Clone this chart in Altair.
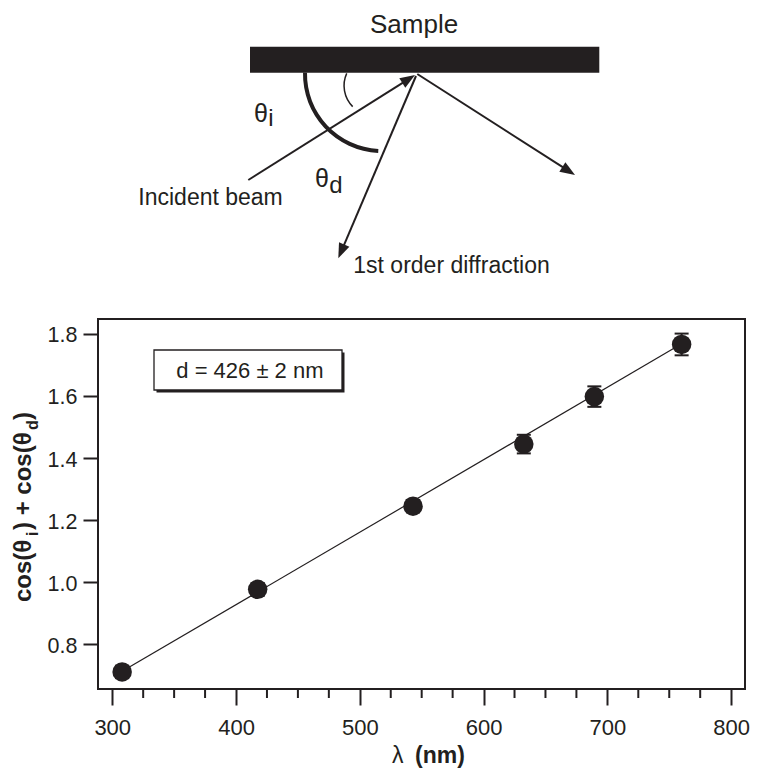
import math
import altair as alt
import pandas as pd

# ------------------------------------------------------------------ data
wavelength_nm = [308.0, 417.5, 543.0, 632.5, 689.5, 760.0]
cos_sum = [0.711, 0.977, 1.245, 1.445, 1.598, 1.766]
cos_sum_err = [0.02, 0.02, 0.02, 0.030, 0.033, 0.035]

fit_wavelength_nm = [308.0, 760.0]
fit_cos_sum = [0.713, 1.768]

x_major_ticks = [300, 400, 500, 600, 700, 800]
x_minor_ticks = [325, 350, 375, 425, 450, 475, 525, 550, 575,
                 625, 650, 675, 725, 750, 775]
y_ticks = [0.8, 1.0, 1.2, 1.4, 1.6, 1.8]
annotation_text = "d = 426 ± 2 nm"

# schematic of the geometry (units ~ px, origin at the reflection point, v upward)
sample_bar_u = [-166.5, 182.8]
sample_bar_v = [0.3, 26.3]

beam_name = ["incident", "diffraction", "reflected"]
beam_from_u = [-168.2, -0.5, 0.8]
beam_from_v = [-107.0, -3.0, -1.0]
beam_tip_u = [-1.5, -78.2, 158.5]
beam_tip_v = [-2.0, -185.3, -102.0]

arc_theta_d_center = [-34.5, -1.0]
arc_theta_i_center = [-42.8, -12.7]

label_text = ["Sample", "θ", "i", "θ", "d", "Incident beam", "1st order diffraction"]
label_u = [-46.5, -162.5, -148.2, -101.5, -87.2, -278.2, -63.2]
label_v = [39.7, -48.7, -53.0, -114.3, -119.7, -132.0, -200.3]
label_role = ["title", "symbol", "sub", "symbol", "sub", "caption", "caption"]

# ------------------------------------------------------------------ style / layout
INK = "#231f20"
FONT = "Liberation Sans"
PAD_L, PAD_T = 90, 311          # plot area origin (page 98, 319)
W, H = 647, 370
PAD_R, PAD_B = 742 - PAD_L - W, 80
ORIGIN_X = 8 + PAD_L             # page x of plot left edge
O_X, O_Y = 416.5, 73.0           # page position of the reflection point
one = pd.DataFrame({"k": [0]})

XS = alt.Scale(domain=[288.5, 811.2], nice=False, zero=False)
YS = alt.Scale(domain=[0.656, 1.848], nice=False, zero=False)
DU = alt.Scale(domain=[ORIGIN_X - O_X, ORIGIN_X + W - O_X], nice=False, zero=False)
DV = alt.Scale(domain=[O_Y - (8 + PAD_T) - H, O_Y - (8 + PAD_T)], nice=False, zero=False)

x_axis = alt.Axis(values=x_major_ticks, title=None, format="d", grid=False, domain=False,
                  tickSize=16, tickWidth=2, tickColor=INK, labelFont=FONT, labelFontSize=22,
                  labelColor=INK, labelPadding=12, labelFlush=False, labelOverlap=False)
y_axis = alt.Axis(values=y_ticks, title=None, format=".1f", grid=False, domain=False,
                  tickSize=15, tickWidth=2, tickColor=INK, labelFont=FONT, labelFontSize=21.5,
                  labelColor=INK, labelPadding=6, labelOffset=2, labelOverlap=False)


def X(f):
    return alt.X(f, scale=XS, axis=x_axis)


def Y(f):
    return alt.Y(f, scale=YS, axis=y_axis)


def U(f):
    return alt.X(f, scale=DU, axis=None)


def V(f):
    return alt.Y(f, scale=DV, axis=None)


def text_at(txt, x, y, size, weight="normal", angle=0, align="left"):
    return alt.Chart(one).mark_text(
        text=txt, font=FONT, fontSize=size, fontWeight=weight, angle=angle,
        align=align, baseline="alphabetic", color=INK
    ).encode(x=alt.value(x), y=alt.value(y))


# ------------------------------------------------------------------ data panel
pts = pd.DataFrame({"wl": wavelength_nm, "cs": cos_sum, "err": cos_sum_err})
pts["lo"] = pts["cs"] - pts["err"]
pts["hi"] = pts["cs"] + pts["err"]
fit = pd.DataFrame({"wl": fit_wavelength_nm, "cs": fit_cos_sum})
minor = pd.DataFrame({"wl": x_minor_ticks})

fit_line = alt.Chart(fit).mark_line(color=INK, strokeWidth=1.2).encode(x=X("wl:Q"), y=Y("cs:Q"))
err_bars = alt.Chart(pts).mark_rule(color=INK, strokeWidth=2).encode(
    x=X("wl:Q"), y=Y("lo:Q"), y2="hi:Q")
cap_lo = alt.Chart(pts).mark_tick(orient="horizontal", size=14, thickness=2, color=INK, opacity=1).encode(
    x=X("wl:Q"), y=Y("lo:Q"))
cap_hi = alt.Chart(pts).mark_tick(orient="horizontal", size=14, thickness=2, color=INK, opacity=1).encode(
    x=X("wl:Q"), y=Y("hi:Q"))
dots = alt.Chart(pts).mark_circle(size=380, color=INK, opacity=1).encode(x=X("wl:Q"), y=Y("cs:Q"))
minor_ticks = alt.Chart(minor).mark_rule(color=INK, strokeWidth=2).encode(
    x=X("wl:Q"), y=alt.value(H), y2=alt.value(H + 9))

box_shadow = alt.Chart(one).mark_rect(color=INK).encode(
    x=alt.value(58.5), x2=alt.value(246.5), y=alt.value(33.5), y2=alt.value(73.5))
box = alt.Chart(one).mark_rect(fill="white", stroke=INK, strokeWidth=1.3).encode(
    x=alt.value(56), x2=alt.value(244), y=alt.value(31), y2=alt.value(71))
box_text = text_at(annotation_text, 151.9, 59.3, 22, align="center")

# y title  cos(θi) + cos(θd)  (rotated, with subscripts)
TX, SX = -67.5, -60.5
yt = [
    text_at("cos(θ", TX, 283, 24, "bold", 270),
    text_at("i", SX, 217, 16, "bold", 270),
    text_at(") + cos(θ", TX, 211, 24, "bold", 270),
    text_at("d", SX, 111, 16, "bold", 270),
    text_at(")", TX, 101, 24, "bold", 270),
]
# x title  λ (nm)
xt = [
    text_at("λ", 294, 444, 23, "normal"),
    text_at("(nm)", 317, 444, 23, "bold"),
]

data_panel = alt.layer(fit_line, err_bars, cap_lo, cap_hi, dots, minor_ticks,
                       box_shadow, box, box_text, *yt, *xt)

# ------------------------------------------------------------------ schematic
bar_df = pd.DataFrame({"u0": [sample_bar_u[0]], "u1": [sample_bar_u[1]],
                       "v0": [sample_bar_v[0]], "v1": [sample_bar_v[1]]})
sample_bar = alt.Chart(bar_df).mark_rect(color=INK).encode(
    x=U("u0:Q"), x2="u1:Q", y=V("v0:Q"), y2="v1:Q")

rows = []
for n, fu, fv, tu, tv in zip(beam_name, beam_from_u, beam_from_v, beam_tip_u, beam_tip_v):
    du, dv = tu - fu, tv - fv
    L = math.hypot(du, dv)
    ang = math.degrees(math.atan2(du, dv)) % 360
    rows.append({"beam": n, "fu": fu, "fv": fv, "eu": tu - 9 * du / L, "ev": tv - 9 * dv / L,
                 "tu": tu, "tv": tv, "ang": ang})
beams = pd.DataFrame(rows)

beam_lines = alt.Chart(beams).mark_rule(color=INK, strokeWidth=2).encode(
    x=U("fu:Q"), y=V("fv:Q"), x2="eu:Q", y2="ev:Q")
ARROW = "M0,0L0.75,2L-0.75,2Z"
arrowheads = alt.Chart(beams).mark_point(shape=ARROW, filled=True, size=225, opacity=1,
                                         color=INK, strokeWidth=0).encode(
    x=U("tu:Q"), y=V("tv:Q"), angle=alt.Angle("ang:Q", scale=None))

arc_d = alt.Chart(pd.DataFrame({"cu": [arc_theta_d_center[0]], "cv": [arc_theta_d_center[1]]})).mark_arc(
    color=INK, radius=79, radius2=75, theta=3.19, theta2=4.73).encode(x=U("cu:Q"), y=V("cv:Q"))
arc_i = alt.Chart(pd.DataFrame({"cu": [arc_theta_i_center[0]], "cv": [arc_theta_i_center[1]]})).mark_arc(
    color=INK, radius=30.4, radius2=28.9, theta=3.93, theta2=5.14).encode(x=U("cu:Q"), y=V("cv:Q"))

labels = pd.DataFrame({"txt": label_text, "u": label_u, "v": label_v, "role": label_role})
diagram_text = alt.Chart(labels).mark_text(align="left", baseline="alphabetic", font=FONT, color=INK).encode(
    x=U("u:Q"), y=V("v:Q"), text="txt:N",
    size=alt.Size("role:N", scale=alt.Scale(domain=["title", "symbol", "sub", "caption"],
                                            range=[26, 23, 15, 22]), legend=None))

diagram = alt.layer(sample_bar, beam_lines, arrowheads, arc_d, arc_i, diagram_text)

chart = alt.layer(data_panel, diagram).resolve_scale(
    x="independent", y="independent"
).properties(
    width=W, height=H,
    autosize=alt.AutoSizeParams(type="none"),
    padding={"left": PAD_L, "top": PAD_T, "right": PAD_R, "bottom": PAD_B},
).configure_view(stroke=INK, strokeWidth=2)

chart.save("out.html", embed_options={"renderer": "svg", "actions": False})
